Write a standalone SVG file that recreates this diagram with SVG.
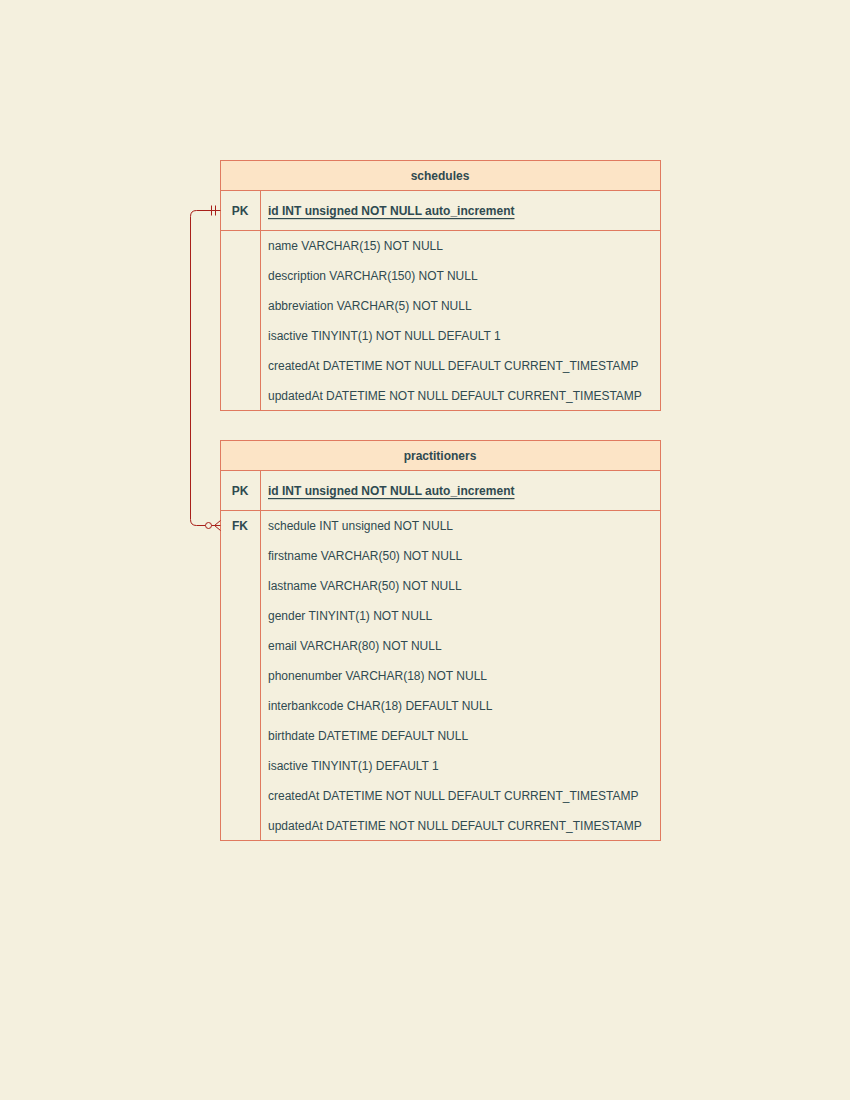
<svg xmlns="http://www.w3.org/2000/svg" width="850" height="1100" viewBox="0 0 850 1100">
<style>
.bg{fill:#F4F0DE}
.box{fill:none;stroke:#E07A5F;stroke-width:1}
.hdr{fill:#FCE4C6;stroke:#E07A5F;stroke-width:1}
.ln{stroke:#E07A5F;stroke-width:1}
text{font-family:"Liberation Sans",Arial,sans-serif;font-size:12px;fill:#2F4A50;dominant-baseline:central}
.t{font-weight:bold;text-anchor:middle}
.k{font-weight:bold;text-anchor:middle}
.pk{font-weight:bold;text-decoration:underline}
.c{fill:none;stroke:#A8201A;stroke-width:1}
</style>
<rect class="bg" x="0" y="0" width="850" height="1100"/>
<g id="schedules">
<rect class="hdr" x="220.5" y="160.5" width="440" height="30"/>
<rect class="box" x="220.5" y="160.5" width="440" height="250"/>
<line class="ln" x1="220.5" y1="230.5" x2="660.5" y2="230.5"/>
<line class="ln" x1="260.5" y1="190.5" x2="260.5" y2="410.5"/>
<text class="t" x="440" y="176">schedules</text>
<text class="k" x="240" y="211">PK</text>
<text class="pk" x="268" y="211">id INT unsigned NOT NULL auto_increment</text>
<text x="268" y="246">name VARCHAR(15) NOT NULL</text>
<text x="268" y="276">description VARCHAR(150) NOT NULL</text>
<text x="268" y="306">abbreviation VARCHAR(5) NOT NULL</text>
<text x="268" y="336">isactive TINYINT(1) NOT NULL DEFAULT 1</text>
<text x="268" y="366">createdAt DATETIME NOT NULL DEFAULT CURRENT_TIMESTAMP</text>
<text x="268" y="396">updatedAt DATETIME NOT NULL DEFAULT CURRENT_TIMESTAMP</text>
</g>
<g id="practitioners">
<rect class="hdr" x="220.5" y="440.5" width="440" height="30"/>
<rect class="box" x="220.5" y="440.5" width="440" height="400"/>
<line class="ln" x1="220.5" y1="510.5" x2="660.5" y2="510.5"/>
<line class="ln" x1="260.5" y1="470.5" x2="260.5" y2="840.5"/>
<text class="t" x="440" y="456">practitioners</text>
<text class="k" x="240" y="491">PK</text>
<text class="pk" x="268" y="491">id INT unsigned NOT NULL auto_increment</text>
<text class="k" x="240" y="526">FK</text>
<text x="268" y="526">schedule INT unsigned NOT NULL</text>
<text x="268" y="556">firstname VARCHAR(50) NOT NULL</text>
<text x="268" y="586">lastname VARCHAR(50) NOT NULL</text>
<text x="268" y="616">gender TINYINT(1) NOT NULL</text>
<text x="268" y="646">email VARCHAR(80) NOT NULL</text>
<text x="268" y="676">phonenumber VARCHAR(18) NOT NULL</text>
<text x="268" y="706">interbankcode CHAR(18) DEFAULT NULL</text>
<text x="268" y="736">birthdate DATETIME DEFAULT NULL</text>
<text x="268" y="766">isactive TINYINT(1) DEFAULT 1</text>
<text x="268" y="796">createdAt DATETIME NOT NULL DEFAULT CURRENT_TIMESTAMP</text>
<text x="268" y="826">updatedAt DATETIME NOT NULL DEFAULT CURRENT_TIMESTAMP</text>
</g>
<g id="connectors">
<path class="c" d="M220.5,210.5 H196.5 Q190.5,210.5 190.5,216.5 V519.5 Q190.5,525.5 196.5,525.5 H205.5"/>
<line class="c" x1="211.5" y1="205.5" x2="211.5" y2="215.5"/>
<line class="c" x1="215.5" y1="205.5" x2="215.5" y2="215.5"/>
<circle class="c" cx="208.5" cy="525.5" r="3"/>
<path class="c" d="M211.5,525.5 H220.5 M214.5,525.5 L220.5,520.5 M214.5,525.5 L220.5,530.5"/>
</g>
</svg>
